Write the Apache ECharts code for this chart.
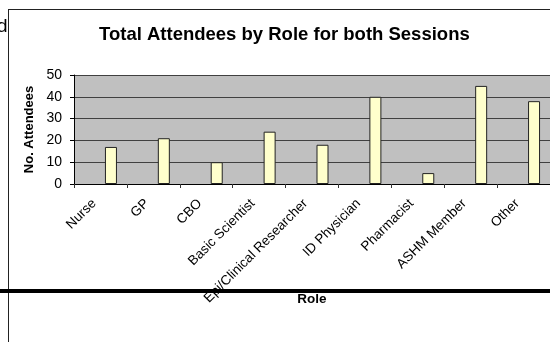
<!DOCTYPE html>
<html>
<head>
<meta charset="utf-8">
<script src="https://cdn.jsdelivr.net/npm/echarts@6/dist/echarts.min.js"></script>
<style>
  html, body { margin: 0; padding: 0; background: #fff; }
  #chart { width: 550px; height: 342px; }
</style>
</head>
<body>
<div id="chart"></div>
<script>
// data
var roles = ['Nurse', 'GP', 'CBO', 'Basic Scientist', 'Epi/Clinical Researcher',
  'ID Physician', 'Pharmacist', 'ASHM Member', 'Other']
var attendees = [17, 21, 10, 24, 18, 40, 5, 45, 38]
// empty first series, it only keeps the space on the left of each bar (like the excel one)
var emptySeries = ['-', '-', '-', '-', '-', '-', '-', '-', '-']
var yTicks = { min: 0, max: 50, interval: 10 }

var FONT = 'Liberation Sans, Arial, sans-serif'

var chart = echarts.init(document.getElementById('chart'), null, { renderer: 'canvas' })

var option = {
  backgroundColor: '#fff',
  animation: false,
  title: {
    text: 'Total Attendees by Role for both Sessions',
    left: 99,
    top: 25,
    padding: 0,
    textStyle: {
      fontFamily: FONT,
      fontSize: 18.5,
      fontWeight: 'bold',
      color: '#000'
    }
  },
  grid: {
    left: 74,
    top: 75,
    right: -4,
    bottom: 158,
    show: true,
    backgroundColor: '#c0c0c0',
    borderWidth: 0
  },
  xAxis: {
    type: 'category',
    data: roles,
    name: 'Role',
    nameLocation: 'middle',
    nameGap: 108,
    nameMoveOverlap: false,
    nameTextStyle: { fontFamily: FONT, fontSize: 13.5, fontWeight: 'bold', color: '#000' },
    axisLine: { show: true, lineStyle: { color: '#000', width: 1 } },
    axisTick: { show: true, length: 4, lineStyle: { color: '#333' } },
    axisLabel: {
      interval: 0,
      rotate: 45,
      margin: 11,
      padding: [0, 9, 0, 0],
      fontFamily: FONT,
      fontSize: 13.5,
      color: '#000'
    },
    splitLine: { show: false }
  },
  yAxis: {
    type: 'value',
    min: yTicks.min,
    max: yTicks.max,
    interval: yTicks.interval,
    name: 'No. Attendees',
    nameLocation: 'middle',
    nameRotate: 90,
    nameGap: 35,
    nameTextStyle: { fontFamily: FONT, fontSize: 13, fontWeight: 'bold', color: '#000' },
    axisLine: { show: true, lineStyle: { color: '#000', width: 1 } },
    axisTick: { show: true, length: 4, lineStyle: { color: '#000' } },
    axisLabel: { margin: 12, fontFamily: FONT, fontSize: 14, color: '#000' },
    splitLine: { show: true, lineStyle: { color: '#404040', width: 1 } }
  },
  series: [
    {
      name: '',
      type: 'bar',
      data: emptySeries,
      barWidth: 12,
      barGap: '75%'
    },
    {
      name: 'Total',
      type: 'bar',
      data: attendees,
      barWidth: 12,
      barGap: '75%',
      itemStyle: {
        color: '#ffffcc',
        borderColor: '#222',
        borderWidth: 1
      }
    }
  ],
  graphic: [
    // bits of the page around the chart
    { type: 'line', z: 100, shape: { x1: 8.5, y1: 9, x2: 8.5, y2: 342 }, style: { stroke: '#222', lineWidth: 1 } },
    { type: 'line', z: 100, shape: { x1: 8, y1: 9.5, x2: 550, y2: 9.5 }, style: { stroke: '#222', lineWidth: 1 } },
    { type: 'rect', z: 100, shape: { x: 0, y: 289, width: 550, height: 4 }, style: { fill: '#000' } },
    { type: 'text', z: 100, x: -3, y: 17, style: { text: 'd', fontFamily: FONT, fontSize: 19, fill: '#000' } }
  ]
}

chart.setOption(option)
</script>
</body>
</html>
